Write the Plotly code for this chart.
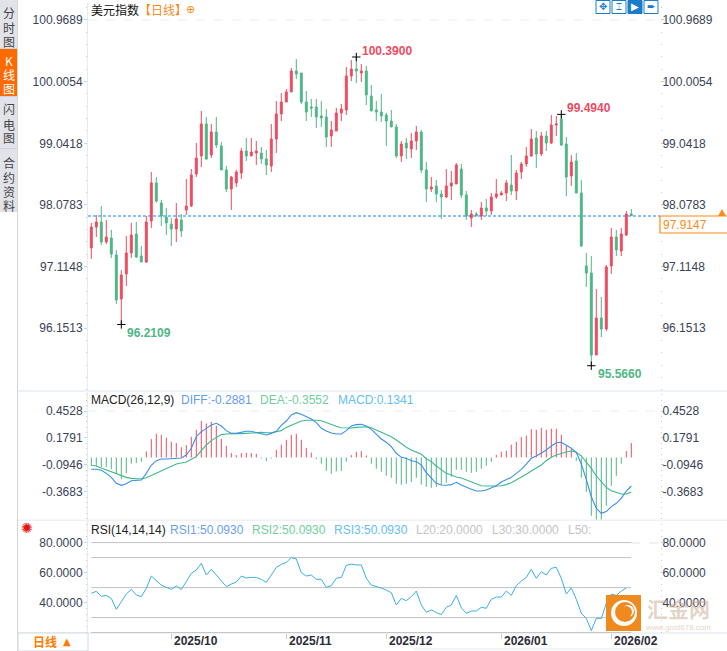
import plotly.graph_objects as go

W, H = 727, 651
RED = "#ee4b5f"
GREEN = "#4fb686"
CJK = "Noto Sans CJK SC"
SANS = "Liberation Sans"

opens = [97.406, 97.734, 97.812, 97.5, 97.562, 97.297, 96.609, 97.0, 97.328, 97.625,
         97.281, 97.187, 97.828, 98.422, 98.109, 97.89, 97.781, 97.703, 97.844, 98.0,
         98.062, 98.562, 98.844, 99.344, 98.859, 99.219, 99.0, 98.625, 98.328, 98.422,
         98.578, 98.922, 98.844, 98.89, 98.89, 98.797, 98.687, 99.109, 99.5, 99.687,
         99.844, 100.172, 100.14, 99.687, 99.609, 99.609, 99.469, 99.453, 99.156, 99.234,
         99.515, 99.562, 100.094, 100.203, 100.14, 100.172, 99.781, 99.562, 99.531, 99.484,
         99.39, 99.297, 98.844, 99.047, 98.953, 99.078, 99.219, 98.625, 98.328, 98.375,
         98.25, 98.203, 98.375, 98.406, 98.64, 98.234, 97.875, 97.937, 97.906, 98.031,
         97.984, 98.203, 98.234, 98.265, 98.39, 98.297, 98.594, 98.719, 98.844, 99.125,
         98.875, 99.156, 99.047, 99.328, 99.422, 99.031, 98.531, 98.765, 98.265, 97.125,
         97.015, 95.734, 96.312, 96.14, 97.125, 97.578, 97.359, 97.609, 97.937]
highs = [97.797, 97.922, 98.062, 97.844, 97.687, 97.375, 97.062, 97.594, 97.797, 97.812,
         97.437, 97.906, 98.594, 98.515, 98.156, 98.031, 97.875, 98.109, 97.937, 98.484,
         98.64, 99.047, 99.547, 99.453, 99.344, 99.453, 99.062, 98.687, 98.531, 98.625,
         98.969, 99.125, 99.125, 99.078, 98.984, 98.937, 99.344, 99.703, 99.828, 99.89,
         100.219, 100.359, 100.14, 99.859, 99.734, 99.734, 99.703, 99.578, 99.39, 99.594,
         99.656, 100.234, 100.344, 100.39, 100.281, 100.25, 99.953, 99.703, 99.812, 99.515,
         99.562, 99.344, 99.078, 99.125, 99.203, 99.312, 99.25, 98.75, 98.515, 98.469,
         98.312, 98.64, 98.609, 98.734, 98.719, 98.297, 98.0, 97.969, 98.125, 98.172,
         98.265, 98.484, 98.297, 98.469, 98.859, 98.625, 98.75, 98.984, 99.265, 99.234,
         99.219, 99.234, 99.484, 99.469, 99.494, 99.14, 98.859, 98.89, 98.469, 97.328,
         97.281, 96.765, 96.64, 97.14, 97.719, 97.687, 97.719, 97.984, 98.015]
lows = [97.234, 97.578, 97.453, 97.469, 97.25, 96.531, 96.2109, 96.812, 97.25, 97.25,
        97.187, 97.172, 97.719, 98.109, 97.75, 97.609, 97.437, 97.5, 97.578, 97.922,
        98.047, 98.515, 98.672, 98.781, 98.812, 98.969, 98.625, 98.281, 98.0, 98.359,
        98.484, 98.765, 98.844, 98.703, 98.719, 98.547, 98.594, 98.89, 99.39, 99.687,
        99.844, 100.047, 99.656, 99.39, 99.453, 99.281, 99.297, 98.984, 98.984, 99.234,
        99.39, 99.484, 100.015, 99.984, 100.0, 99.64, 99.547, 99.39, 99.375, 99.0,
        99.297, 98.812, 98.75, 98.797, 98.812, 98.937, 98.578, 98.125, 98.281, 98.125,
        97.859, 98.187, 98.156, 98.406, 98.187, 97.844, 97.734, 97.906, 97.844, 97.906,
        97.922, 98.172, 98.234, 98.14, 98.234, 98.156, 98.484, 98.672, 98.828, 98.656,
        98.844, 98.922, 99.031, 99.156, 99.0, 98.219, 98.375, 98.265, 97.422, 96.797,
        95.566, 95.734, 96.015, 96.109, 97.0, 97.281, 97.281, 97.594, 97.906]
closes = [97.734, 97.812, 97.5, 97.578, 97.312, 96.594, 96.984, 97.328, 97.609, 97.265,
          97.187, 97.812, 98.422, 98.14, 97.906, 97.797, 97.703, 97.859, 97.672, 98.062,
          98.547, 98.812, 99.344, 98.797, 99.219, 99.015, 98.625, 98.328, 98.515, 98.594,
          98.922, 98.844, 98.906, 98.922, 98.797, 98.703, 99.109, 99.5, 99.687, 99.844,
          100.172, 100.125, 99.687, 99.531, 99.594, 99.453, 99.437, 99.14, 99.25, 99.515,
          99.578, 100.094, 100.203, 100.172, 100.172, 99.797, 99.547, 99.531, 99.469, 99.39,
          99.297, 98.844, 99.031, 98.969, 99.078, 99.219, 98.625, 98.328, 98.359, 98.25,
          98.203, 98.375, 98.422, 98.703, 98.234, 97.906, 97.937, 97.906, 98.031, 97.984,
          98.203, 98.25, 98.265, 98.422, 98.297, 98.578, 98.719, 98.844, 99.109, 98.875,
          99.156, 99.047, 99.328, 99.344, 99.015, 98.515, 98.75, 98.265, 97.437, 97.015,
          95.734, 96.312, 96.14, 97.109, 97.578, 97.375, 97.625, 97.937, 97.9147]

macd_hist = [-0.085, -0.085, -0.098, -0.098, -0.119, -0.170, -0.221, -0.160, -0.064, -0.058,
             -0.044, 0.061, 0.187, 0.241, 0.231, 0.200, 0.160, 0.146, 0.105, 0.126,
             0.210, 0.282, 0.373, 0.346, 0.363, 0.322, 0.190, 0.119, 0.044, 0.024,
             0.044, 0.048, 0.044, 0.037, -0.010, -0.037, -0.010, 0.078, 0.129, 0.180,
             0.231, 0.241, 0.180, 0.098, 0.048, -0.017, -0.064, -0.136, -0.166, -0.143,
             -0.136, -0.044, 0.024, 0.058, 0.064, 0.020, -0.064, -0.115, -0.146, -0.187,
             -0.207, -0.268, -0.278, -0.268, -0.251, -0.207, -0.278, -0.299, -0.309, -0.299,
             -0.278, -0.258, -0.197, -0.126, -0.126, -0.146, -0.156, -0.146, -0.115, -0.085,
             -0.044, 0.027, 0.058, 0.068, 0.129, 0.160, 0.207, 0.221, 0.288, 0.282,
             0.302, 0.282, 0.292, 0.292, 0.231, 0.119, 0.085, -0.034, -0.207, -0.350,
             -0.594, -0.652, -0.652, -0.492, -0.289, -0.187, -0.064, 0.064, 0.146]
macd_diff = [-0.141, -0.141, -0.151, -0.182, -0.223, -0.284, -0.304, -0.287, -0.257, -0.250,
             -0.250, -0.182, -0.100, -0.053, -0.036, -0.036, -0.033, -0.029, -0.026, 0.005,
             0.073, 0.191, 0.242, 0.276, 0.310, 0.327, 0.300, 0.253, 0.225, 0.225,
             0.235, 0.246, 0.246, 0.235, 0.225, 0.208, 0.225, 0.246, 0.307, 0.351,
             0.412, 0.436, 0.419, 0.395, 0.371, 0.334, 0.276, 0.249, 0.229, 0.218,
             0.218, 0.253, 0.300, 0.314, 0.317, 0.300, 0.266, 0.218, 0.168, 0.134,
             0.090, 0.022, -0.019, -0.029, -0.053, -0.063, -0.097, -0.175, -0.233, -0.284,
             -0.301, -0.304, -0.297, -0.274, -0.301, -0.325, -0.345, -0.362, -0.362, -0.352,
             -0.328, -0.308, -0.270, -0.243, -0.223, -0.182, -0.141, -0.087, -0.029, -0.005,
             0.022, 0.056, 0.096, 0.130, 0.134, 0.103, 0.073, 0.029, -0.087, -0.243,
             -0.420, -0.538, -0.589, -0.572, -0.521, -0.487, -0.437, -0.362, -0.311]
macd_dea = [-0.100, -0.107, -0.128, -0.148, -0.165, -0.189, -0.209, -0.223, -0.233, -0.240,
            -0.240, -0.226, -0.202, -0.175, -0.151, -0.131, -0.107, -0.087, -0.077, -0.067,
            -0.039, -0.012, 0.049, 0.107, 0.151, 0.185, 0.212, 0.218, 0.222, 0.222,
            0.222, 0.225, 0.232, 0.235, 0.235, 0.232, 0.232, 0.242, 0.253, 0.286,
            0.310, 0.334, 0.351, 0.358, 0.361, 0.358, 0.354, 0.334, 0.314, 0.297,
            0.283, 0.280, 0.280, 0.286, 0.286, 0.293, 0.283, 0.259, 0.239, 0.218,
            0.191, 0.158, 0.117, 0.083, 0.056, 0.032, 0.012, -0.033, -0.063, -0.107,
            -0.148, -0.182, -0.199, -0.219, -0.230, -0.250, -0.274, -0.291, -0.308, -0.311,
            -0.314, -0.311, -0.308, -0.297, -0.277, -0.250, -0.223, -0.192, -0.158, -0.124,
            -0.097, -0.053, -0.019, 0.005, 0.022, 0.035, 0.046, 0.032, -0.005, -0.063,
            -0.131, -0.209, -0.267, -0.325, -0.359, -0.379, -0.393, -0.393, -0.372]
rsi = [46.2, 47.5, 44.2, 44.8, 42.8, 35.5, 40.6, 45.7, 48.8, 45.1,
       44.0, 49.5, 57.7, 54.6, 51.7, 50.2, 48.8, 51.1, 48.8, 54.0,
       59.5, 61.7, 66.2, 58.4, 62.2, 58.4, 54.6, 50.6, 52.4, 53.7,
       57.7, 56.4, 56.8, 56.8, 55.5, 53.5, 58.4, 63.5, 65.5, 66.8,
       70.0, 69.1, 60.0, 57.7, 58.4, 55.5, 55.5, 50.2, 51.3, 56.2,
       56.8, 64.8, 65.7, 65.1, 65.1, 56.2, 51.7, 50.9, 49.7, 48.4,
       46.6, 38.4, 42.8, 41.3, 44.0, 47.7, 38.4, 33.5, 35.1, 33.3,
       32.0, 36.9, 38.4, 44.8, 36.6, 32.9, 34.4, 34.4, 36.9, 36.2,
       42.2, 43.7, 43.7, 47.7, 44.8, 51.3, 54.4, 56.8, 62.2, 56.2,
       60.6, 58.4, 62.9, 63.5, 56.2, 45.7, 49.7, 42.2, 32.9, 29.5,
       21.3, 29.5, 29.5, 39.5, 45.7, 44.8, 47.7, 49.7]

price_ticks = [100.9689, 100.0054, 99.0418, 98.0783, 97.1148, 96.1513]
price_labels = ["100.9689", "100.0054", "99.0418", "98.0783", "97.1148", "96.1513"]
macd_ticks = [0.4528, 0.1791, -0.0946, -0.3683]
macd_labels = ["0.4528", "0.1791", "-0.0946", "-0.3683"]
rsi_ticks = [80, 60, 40]
rsi_labels = ["80.0000", "60.0000", "40.0000"]
rsi_levels = [80, 70, 50, 30, 20]
month_ticks = [16, 39, 59, 82, 104]
month_labels = ["2025/10", "2025/11", "2025/12", "2026/01", "2026/02"]

last_price = 97.9147
macd_base = -0.0203
extremes = [(53, 100.39, "100.3900", RED, 361, 51),
            (94, 99.494, "99.4940", RED, 566, 108),
            (6, 96.2109, "96.2109", GREEN, 126, 333),
            (100, 95.566, "95.5660", GREEN, 597, 374)]

xs = list(range(len(opens)))
X_RANGE = [-0.66, 113.74]


def px(x):
    return x / W


def py(y):
    return 1 - y / H


shapes = []
annotations = []


def text(x, y, s, color="#333", size=12, anchor="left", font=SANS, bold=False):
    if bold:
        s = f"<b>{s}</b>"
    annotations.append(dict(x=px(x), y=py(y), xref="paper", yref="paper", text=s, showarrow=False,
                            xanchor=anchor, yanchor="middle", borderpad=0,
                            font=dict(family=font, size=size, color=color)))


def rect(x0, y0, x1, y1, fill=None, line=None, width=1, layer="above"):
    shapes.append(dict(type="rect", xref="paper", yref="paper", x0=px(x0), x1=px(x1), y0=py(y0), y1=py(y1),
                       fillcolor=fill, line=dict(color=line, width=width if line else 0), layer=layer))


def circle(x0, y0, x1, y1, fill):
    shapes.append(dict(type="circle", xref="paper", yref="paper", x0=px(x0), x1=px(x1), y0=py(y0), y1=py(y1),
                       fillcolor=fill, line=dict(width=0)))


def hline(x0, x1, y, color, width=1, dash="solid", layer="below"):
    shapes.append(dict(type="line", xref="paper", yref="paper", x0=px(x0), x1=px(x1), y0=py(y), y1=py(y),
                       line=dict(color=color, width=width, dash=dash), layer=layer))


def vline(x, y0, y1, color, width=1):
    shapes.append(dict(type="line", xref="paper", yref="paper", x0=px(x), x1=px(x), y0=py(y0), y1=py(y1),
                       line=dict(color=color, width=width), layer="below"))


def stems(keep):
    # one thin line per histogram value, broken up with None
    sx, sy = [], []
    for i, v in zip(xs, macd_hist):
        if keep(v):
            sx += [i, i, None]
            sy += [macd_base, macd_base + v, None]
    return sx, sy


fig = go.Figure()

fig.add_trace(go.Candlestick(x=xs, open=opens, high=highs, low=lows, close=closes, whiskerwidth=0,
                             increasing=dict(line=dict(color=RED, width=1), fillcolor=RED),
                             decreasing=dict(line=dict(color=GREEN, width=1), fillcolor=GREEN),
                             xaxis="x", yaxis="y", hoverinfo="skip"))
fig.add_trace(go.Scatter(x=[e[0] for e in extremes], y=[e[1] for e in extremes], mode="markers",
                         marker=dict(symbol="cross-thin", size=6, line=dict(color="#000", width=1)),
                         xaxis="x", yaxis="y", hoverinfo="skip"))
fig.add_trace(go.Scatter(x=xs, y=closes, mode="lines", opacity=0, xaxis="x", yaxis="y2", hoverinfo="skip"))

up_x, up_y = stems(lambda v: v >= 0)
dn_x, dn_y = stems(lambda v: v < 0)
fig.add_trace(go.Scatter(x=up_x, y=up_y, mode="lines", line=dict(color=RED, width=1),
                         xaxis="x2", yaxis="y3", hoverinfo="skip"))
fig.add_trace(go.Scatter(x=dn_x, y=dn_y, mode="lines", line=dict(color=GREEN, width=1),
                         xaxis="x2", yaxis="y3", hoverinfo="skip"))
fig.add_trace(go.Scatter(x=xs, y=macd_dea, mode="lines", line=dict(color="#3dba8c", width=1.1),
                         xaxis="x2", yaxis="y3", hoverinfo="skip"))
fig.add_trace(go.Scatter(x=xs, y=macd_diff, mode="lines", line=dict(color="#3a90ea", width=1.1),
                         xaxis="x2", yaxis="y3", hoverinfo="skip"))
fig.add_trace(go.Scatter(x=xs, y=macd_diff, mode="lines", opacity=0, xaxis="x2", yaxis="y4", hoverinfo="skip"))

fig.add_trace(go.Scatter(x=xs[:len(rsi)], y=rsi, mode="lines", line=dict(color="#38b0e4", width=1),
                         xaxis="x3", yaxis="y5", hoverinfo="skip"))
fig.add_trace(go.Scatter(x=xs[:len(rsi)], y=rsi, mode="lines", opacity=0, xaxis="x3", yaxis="y6", hoverinfo="skip"))


# --- axis helpers ---
def xaxis(anchor, ticks=False):
    d = dict(domain=[px(88), px(660)], range=X_RANGE, anchor=anchor, showgrid=False, zeroline=False,
             showline=False, showticklabels=False, rangeslider=dict(visible=False), ticks="")
    if ticks:
        d.update(tickmode="array", tickvals=month_ticks, ticks="outside", ticklen=5,
                 tickcolor="#c6ccd2", tickwidth=1)
    return d


def yaxis(rng, top, bottom, vals, labels, minor_tick0, minor_dtick, side, overlay=None, anchor="x"):
    d = dict(domain=[py(bottom), py(top)], range=rng, anchor=anchor, side=side, showgrid=False, zeroline=False,
             tickmode="array", tickvals=vals, ticktext=labels, ticks="outside", ticklen=3, tickwidth=1,
             tickcolor="#b5dcf2" if side == "left" else "#c8c8c8",
             ticklabelstandoff=-1 if side == "left" else -4,
             tickfont=dict(family=SANS, size=12, color="#3a4256"),
             minor=dict(ticks="outside", ticklen=1, tickwidth=1, tickcolor="#c4cad0",
                        tick0=minor_tick0, dtick=minor_dtick),
             showline=side == "left", linecolor="#e2edf3", linewidth=1)
    if overlay:
        d["overlaying"] = overlay
    return d


PRICE_RANGE = [95.187, 101.234]
MACD_RANGE = [-0.6572, 0.6463]
RSI_RANGE = [19.73, 94.4]

# --- panel furniture ---
hline(88, 660, 20, "#e9eef0", dash="dash")
hline(88, 660, 411, "#e9eef0", dash="dash")
hline(631, 660, 543, "#e0e4e6", dash="dash")
hline(88, 660, 216, "#0a84ff", width=1, dash="3px,2px")
for level in rsi_levels:
    shapes.append(dict(type="line", xref="x3", yref="y5", x0=0, x1=108, y0=level, y1=level,
                       line=dict(color="#c2c2c2", width=1), layer="below"))

rect(18, 390, W, 392, fill="#eef2f6")
rect(18, 519.5, W, 521, fill="#eef2f6")
hline(18, W, 633, "#dfe5ea")
hline(414, 660, 649, "#e4eaee")

# --- left side tabs ---
rect(0, 0, 17, 212, fill="#e2e3ea", layer="below")
rect(0, 49, 17, 96, fill="#ff6a00")
for y in (48.5, 96.5, 148.5):
    hline(0, 17, y, "#cdd2d8", layer="above")
vline(17.5, 0, H, "#d3d8dc")
for chars, ys, color in (("分时图", (13, 27, 41), "#444"),
                         ("K线图", (60, 74, 88), "#fff"),
                         ("闪电图", (109, 124, 138), "#444"),
                         ("合约资料", (162, 177, 191, 205), "#444")):
    for ch, y in zip(chars, ys):
        text(8.5, y, ch, color=color, size=12, anchor="center", font=CJK)

rect(18, 633, 88, H, fill="#fff", line="#d3d8dc")
text(32, 641.5, "日线", color="#ff7a00", size=12, font=CJK, bold=True)
text(62, 641.5, "▲", color="#ff7a00", size=10, font="DejaVu Sans")

# --- sun icon next to RSI ---
text(27, 527.5, "✺", color="#e81010", size=14, anchor="center", font="DejaVu Sans")
circle(24.5, 525, 29.5, 530, "#201010")

# --- headers ---
text(90, 9, "美元指数", color="#111", size=12, font=CJK)
text(138, 9, "【日线】", color="#f58a1e", size=12, font=CJK)
text(190, 10, "⊕", color="#f58a1e", size=11, anchor="center", font="DejaVu Sans")

text(90, 400, "MACD(26,12,9)", color="#222")
text(180, 400, "DIFF:-0.2881", color="#5f9df2")
text(259, 400, "DEA:-0.3552", color="#6fd09e")
text(337, 400, "MACD:0.1341", color="#62c0f2")

text(90, 530, "RSI(14,14,14)", color="#222")
text(169, 530, "RSI1:50.0930", color="#6a9ff2")
text(251, 530, "RSI2:50.0930", color="#6fd09e")
text(333, 530, "RSI3:50.0930", color="#62c0f2")
text(415, 530, "L20:20.0000", color="#c4c4c4")
text(491, 530, "L30:30.0000", color="#c4c4c4")
text(567, 530, "L50:", color="#c4c4c4")

# --- high / low labels ---
for _, _, label, color, x, y in extremes:
    text(x, y, label, color=color, size=12, bold=True)

# --- time axis labels ---
for tick, label in zip(month_ticks, month_labels):
    annotations.append(dict(x=tick, y=py(641), xref="x3", yref="paper", text=f"<b>{label}</b>", showarrow=False,
                            xanchor="left", xshift=1, yanchor="middle",
                            font=dict(family=SANS, size=12, color="#2c2c38")))

# --- last price tag ---
rect(660, 216, 728, 233, fill="#fff", line="#ff8a14", width=1.2)
text(662, 225, f"{last_price:.4f}", color="#ff8a14", size=12)
shapes.append(dict(type="path", xref="paper", yref="paper", fillcolor="#ff8a14", line=dict(width=0),
                   path=f"M {px(718)},{py(216)} L {px(726)},{py(216)} L {px(722)},{py(209)} Z"))

# --- toolbar icons ---
for x0, fill, glyph, color in ((596, "#fff", "✥", "#1a7cc8"), (612, "#fff", "⌶", "#1a7cc8"),
                               (628, "#1a7cc8", "▶", "#fff"), (644, "#fff", "➨", "#1a7cc8")):
    rect(x0, 0.5, x0 + 14, 13.5, fill=fill, line="#1a7cc8")
    text(x0 + 7, 7, glyph, color=color, size=10, anchor="center", font="DejaVu Sans")

# --- watermark ---
rect(607, 596, 640, 630, fill="#f08a1e", line="#f08a1e", width=2)
circle(611, 600, 637, 626, "#fff")
circle(615, 602, 635, 622, "#f08a1e")
circle(622, 605, 634, 617, "#fff")
circle(620, 606, 632, 618, "#f08a1e")
text(678, 608, "汇金网", color="rgba(205,175,150,0.55)", size=21, anchor="center", font=CJK, bold=True)
text(678, 627, "www.gold678.com", color="rgba(205,175,150,0.55)", size=8, anchor="center")

fig.update_layout(
    width=W, height=H, autosize=False, margin=dict(l=0, r=0, t=0, b=0),
    paper_bgcolor="#fff", plot_bgcolor="rgba(0,0,0,0)", showlegend=False, boxgap=0.45,
    xaxis=xaxis("y"),
    xaxis2=xaxis("y3"),
    xaxis3=xaxis("y5", ticks=True),
    yaxis=yaxis(PRICE_RANGE, 3, 390, price_ticks, price_labels, 96.1513, 0.19271, "left"),
    yaxis2=yaxis(PRICE_RANGE, 3, 390, price_ticks, price_labels, 96.1513, 0.19271, "right", overlay="y"),
    yaxis3=yaxis(MACD_RANGE, 392, 520, macd_ticks, macd_labels, -0.3683, 0.05474, "left", anchor="x2"),
    yaxis4=yaxis(MACD_RANGE, 392, 520, macd_ticks, macd_labels, -0.3683, 0.05474, "right", overlay="y3", anchor="x2"),
    yaxis5=yaxis(RSI_RANGE, 521, 633, rsi_ticks, rsi_labels, 20, 4, "left", anchor="x3"),
    yaxis6=yaxis(RSI_RANGE, 521, 633, rsi_ticks, rsi_labels, 20, 4, "right", overlay="y5", anchor="x3"),
    shapes=shapes, annotations=annotations,
)

fig.write_html("out.html", post_script="document.body.style.margin='0';", config=dict(displayModeBar=False))
